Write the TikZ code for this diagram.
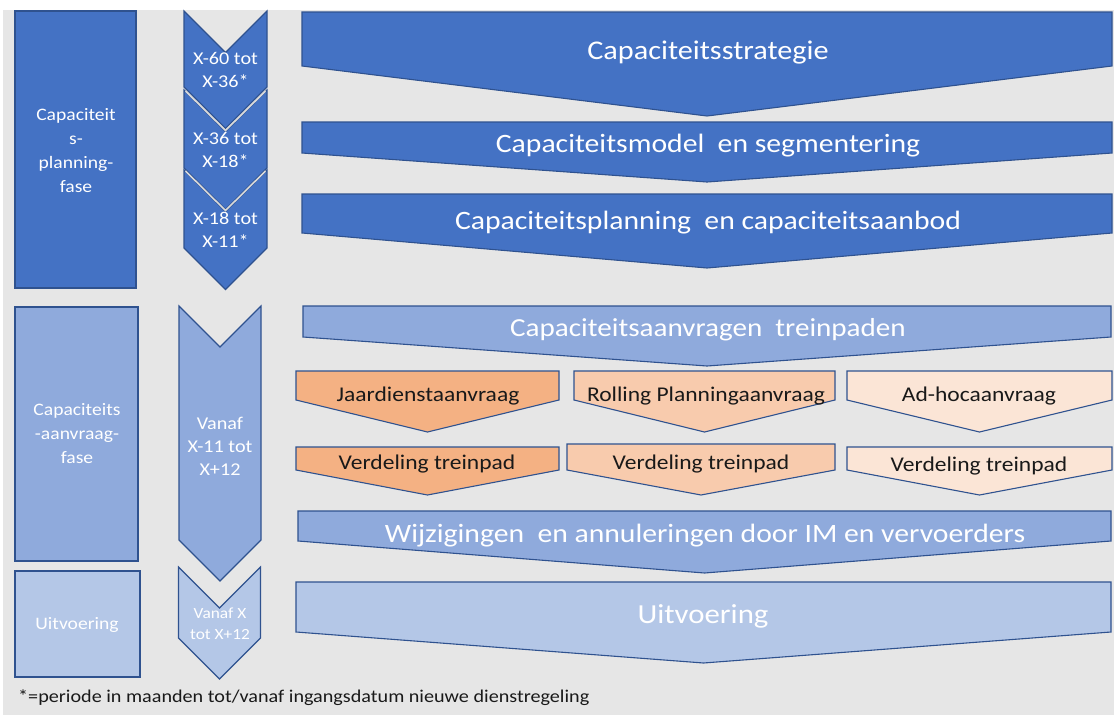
\documentclass[tikz,border=0pt]{standalone}
\usepackage{fontspec}
\setmainfont{Carlito}[FakeStretch=1.12]
\definecolor{bgc}{HTML}{E6E6E6}
\definecolor{dkb}{HTML}{4472C4}
\definecolor{mdb}{HTML}{8FAADC}
\definecolor{ltb}{HTML}{B4C7E7}
\definecolor{lnb}{HTML}{2F528F}
\definecolor{or1}{HTML}{F4B183}
\definecolor{or2}{HTML}{F8CBAD}
\definecolor{or3}{HTML}{FBE5D6}
\definecolor{sep}{HTML}{D9D9D9}
\newcommand\dshape[6]{\draw[shapeline,fill=#6] (#1,#3) -- (#2,#3) -- (#2,#4) -- ({(#1+#2)/2},#5) -- (#1,#4) -- cycle;}
\newcommand\chevshape[5]{\draw[shapeline,fill=#4] ({#1-#5},#2) -- (#1,{#2+#5}) -- ({#1+#5},#2) -- ({#1+#5},#3) -- (#1,{#3+#5}) -- ({#1-#5},#3) -- cycle;}
\tikzset{
  shapeline/.style={draw=lnb,line width=1.1pt,line join=miter},
  wtxt/.style={text=white,inner sep=0pt,align=center},
  btxt/.style={text=black!90,inner sep=0pt,align=center},
  sidetxt/.style={wtxt,font=\fontsize{17.5}{24}\selectfont},
  chevtxt/.style={wtxt,font=\fontsize{18}{23}\selectfont},
  bigtxt/.style={wtxt,font=\fontsize{27}{30}\selectfont},
  midtxt/.style={wtxt,font=\fontsize{26.5}{30}\selectfont},
  ortxt/.style={btxt,font=\fontsize{21}{24}\selectfont},
}
\begin{document}
\begin{tikzpicture}[x=1pt,y=-1pt]
\useasboundingbox (0,0) rectangle (1114,715);
\fill[white] (0,0) rectangle (1114,715);
\fill[bgc] (3,10) rectangle (1114,715);
% left phase boxes
\draw[shapeline,fill=dkb] (15,11) rectangle (136,288);
\draw[shapeline,fill=mdb] (15,307) rectangle (138,561);
\draw[shapeline,fill=ltb] (15,571) rectangle (140,677);
\node[sidetxt] (p1) at (76,151) {Capaciteit\\s-\\planning-\\fase};
\node[sidetxt] (p2) at (77,434) {Capaciteits\\-aanvraag-\\fase};
\node[sidetxt] (p3) at (77,625) {Uitvoering};
% chevrons
\chevshape{225.5}{11}{87}{dkb}{41.5}
\chevshape{225.5}{90}{168}{dkb}{41.5}
\draw[sep,line width=1.6pt] (185.5,91) -- (225.5,130.5) -- (265.5,91);
\chevshape{225.5}{170}{248}{dkb}{41.5}
\draw[sep,line width=1.6pt] (185.5,171) -- (225.5,210.5) -- (265.5,171);
\chevshape{220}{306}{540}{mdb}{41}
\chevshape{219.5}{567}{638}{ltb}{41}
\node[chevtxt] (c1) at (225.5,70) {X-60 tot\\X-36*};
\node[chevtxt] (c2) at (225.5,150) {X-36 tot\\X-18*};
\node[chevtxt] (c3) at (225.5,230) {X-18 tot\\X-11*};
\node[chevtxt] (c4) at (220,446) {Vanaf\\X-11 tot\\X+12};
\node[wtxt,font=\fontsize{15.5}{21}\selectfont] (c5) at (220,624) {Vanaf X\\tot X+12};
% right arrows
\dshape{302}{1112}{12}{66}{116}{dkb}
\dshape{302}{1112}{122}{153}{182}{dkb}
\dshape{302}{1112}{194}{233}{268}{dkb}
\dshape{303}{1111}{306}{337}{366}{mdb}
\dshape{296}{559}{371}{400}{432}{or1}
\dshape{574}{835}{371}{400}{432}{or2}
\dshape{847}{1112}{371}{400}{432}{or3}
\dshape{296}{559}{447}{470}{495}{or1}
\dshape{567}{835}{444}{470}{495}{or2}
\dshape{847}{1112}{447}{470}{495}{or3}
\dshape{298}{1111}{511}{541}{573}{mdb}
\dshape{296}{1111}{582}{632}{663}{ltb}
\node[bigtxt] (a1) at (708,53) {Capaciteitsstrategie};
\node[midtxt] (a2) at (708,146) {Capaciteitsmodel\ \ en segmentering};
\node[midtxt] (a3) at (708,223) {Capaciteitsplanning\ \ en capaciteitsaanbod};
\node[wtxt,font=\fontsize{26}{30}\selectfont] (a4) at (708,330) {Capaciteitsaanvragen\ \ treinpaden};
\node[ortxt] (o1) at (428,396) {Jaardienstaanvraag};
\node[ortxt] (o2) at (706,396) {Rolling Planningaanvraag};
\node[ortxt] (o3) at (979,396) {Ad-hocaanvraag};
\node[ortxt] (v1) at (427,464) {Verdeling treinpad};
\node[ortxt] (v2) at (701,464) {Verdeling treinpad};
\node[ortxt] (v3) at (979,466) {Verdeling treinpad};
\node[midtxt] (a5) at (705,536) {Wijzigingen\ \ en annuleringen door IM en vervoerders};
\node[wtxt,font=\fontsize{27.5}{30}\selectfont] (a6) at (703,616) {Uitvoering};
\node[btxt,anchor=west,font=\fontsize{18}{20}\selectfont] (fn) at (18,698) {*=periode in maanden tot/vanaf ingangsdatum nieuwe dienstregeling};
\end{tikzpicture}
\end{document}
